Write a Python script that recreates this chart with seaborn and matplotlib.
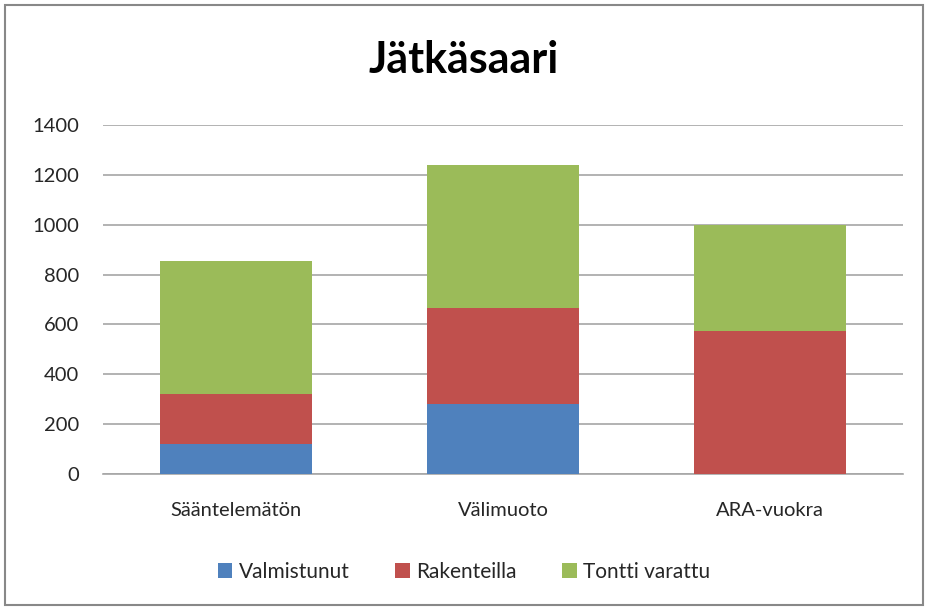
import matplotlib
matplotlib.use('Agg')
import matplotlib.pyplot as plt
import seaborn as sns
import pandas as pd
from matplotlib.patches import Rectangle, Patch

# Data
categories = ['Sääntelemätön', 'Välimuoto', 'ARA-vuokra']
valmistunut = [120, 281, 0]
rakenteilla = [199, 384, 572]
tontti_varattu = [534, 575, 428]

series_names = ['Valmistunut', 'Rakenteilla', 'Tontti varattu']
colors = ['#4F81BD', '#C0504D', '#9BBB59']

sns.set_theme(style="white")
plt.rcParams['font.family'] = ['Lato', 'DejaVu Sans']

df = pd.DataFrame({
    'cat': categories,
    'v': valmistunut,
    'r': rakenteilla,
    't': tontti_varattu,
})
df['top_r'] = df['v'] + df['r']
df['top_t'] = df['top_r'] + df['t']

fig = plt.figure(figsize=(9.28, 6.08), dpi=100)
ax = fig.add_axes([103 / 928, 1 - 474 / 608, 800 / 928, 349 / 608])

# draw cumulative bars back to front
for col, c in [('top_t', colors[2]), ('top_r', colors[1]), ('v', colors[0])]:
    sns.barplot(data=df, x='cat', y=col, color=c, width=0.57, saturation=1,
                linewidth=0, edgecolor='none', ax=ax, zorder=3)

ax.set_ylim(0, 1400)
ax.set_yticks(range(0, 1401, 200))
ax.set_xlim(-0.5, 2.5)
ax.set_xlabel('')
ax.set_ylabel('')
ax.yaxis.grid(True, color='#a6a6a6', linewidth=1.2, zorder=0)
ax.set_axisbelow(True)
for s in ['left', 'right', 'top']:
    ax.spines[s].set_visible(False)
ax.spines['bottom'].set_color('#a6a6a6')
ax.spines['bottom'].set_linewidth(1.2)
ax.tick_params(axis='both', length=0, labelsize=14.5, colors='#262626')
ax.tick_params(axis='y', pad=17)
ax.tick_params(axis='x', pad=20)

fig.text(0.5, 1 - 60 / 608, 'Jätkäsaari', ha='center', va='center',
         fontsize=31, fontweight='bold', color='black')

handles = [Patch(facecolor=c, edgecolor='none') for c in colors]
fig.legend(handles, series_names, loc='center', bbox_to_anchor=(0.5, 1 - 572 / 608),
           ncol=3, frameon=False, fontsize=15, handlelength=0.7, handleheight=0.7,
           columnspacing=2.2, handletextpad=0.3)

fig.patches.append(Rectangle((5 / 928, 3 / 608), 918 / 928, 600 / 608,
                             transform=fig.transFigure, fill=False,
                             edgecolor='#888888', linewidth=1.5))

plt.savefig('out.png', dpi=100)
plt.close()
